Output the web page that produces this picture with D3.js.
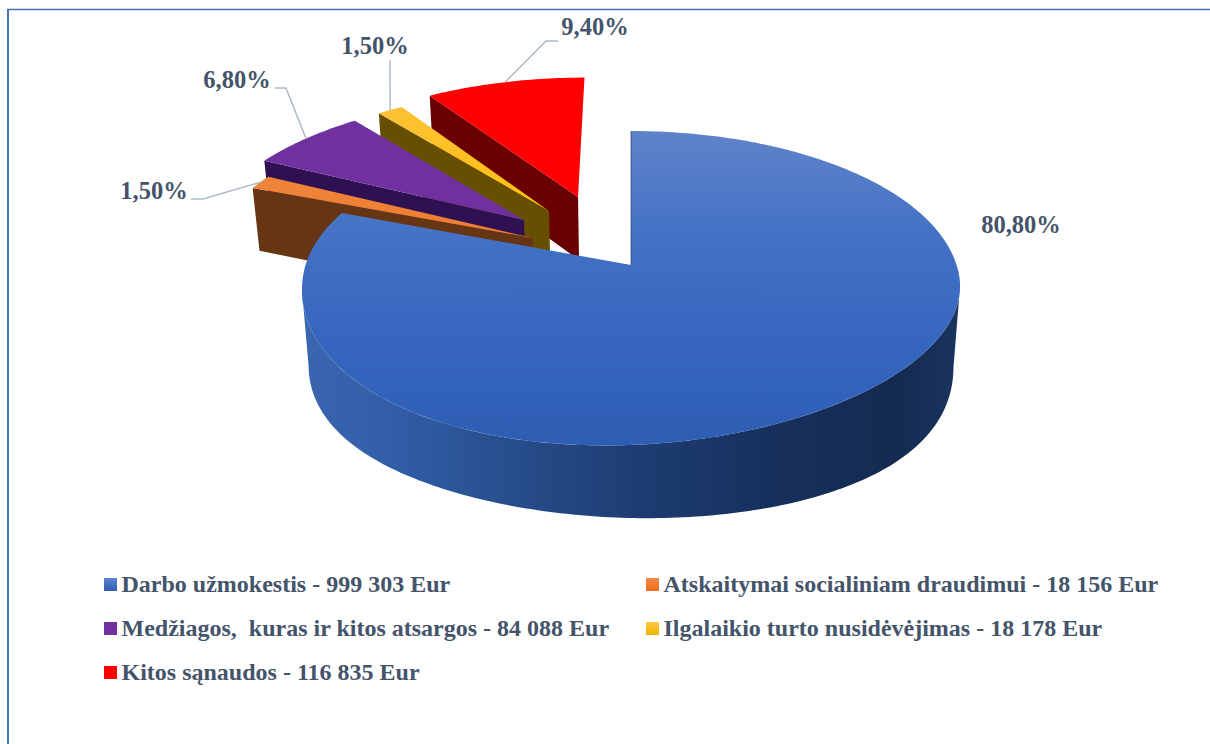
<!DOCTYPE html>
<head>
  <meta charset="utf-8">
  <title>Sanaudos</title>
<style>
html, body{
  width: 100%;
  height: 100%;
  margin: 0;
  padding: 0;
  background: #fff;
}
svg{ display: block; }
text{
  font-family: 'Liberation Serif', 'Times New Roman', serif;
  font-weight: bold;
  fill: #44546a;
  white-space: pre;
}
.pct{ font-size: 24.5px; }
.legend-label{ font-size: 24px; }
.leader{ fill: none; stroke: #adb9ca; stroke-width: 1.5px; }
.frame{ fill: none; stroke: #4472c4; }
.cut{ fill: none; stroke: #2c3f60; stroke-width: 1px; stroke-opacity: 0.7; }
</style>
</head>
<body>
<svg width="1210" height="744"></svg>
<script src="https://d3js.org/d3.v7.min.js"></script>
<script>
// values, clockwise from 12 o'clock
var names   = ["Darbo užmokestis", "Atskaitymai socialiniam draudimui", "Medžiagos,  kuras ir kitos atsargos", "Ilgalaikio turto nusidėvėjimas", "Kitos sąnaudos"];
var amounts = ["999 303", "18 156", "84 088", "18 178", "116 835"];
var shares  = [80.8, 1.5, 6.8, 1.5, 9.4];

// look of each slice
var topLight  = ["#5f83c9", "#f4904c", "#7030a0", "#fcc23e", "#ff0000"];
var topDark   = ["#2d5eb4", "#ec7a2c", "#7030a0", "#ffc000", "#ff0000"];
var sideColor = ["#2f5597", "#663513", "#2f1152", "#665000", "#6b0000"];
var swatchTop = ["#5b86d0", "#f4884a", "#7030a0", "#ffc93f", "#ff0000"];
var swatchBot = ["#2f5cb2", "#ee6c1c", "#7030a0", "#f0b400", "#ff0000"];

// how far each slice is pulled out of the pie, in radius units
var pullX = [0, -0.309, -0.3436, -0.2656, -0.174];
var pullY = [0, -0.18, -0.306, -0.3706, -0.4735];
var rimScale = [1, 1.012, 1.012, 1.012, 1.012];

// leader line elbows and label spots
var leaderKnee = [null, [[203, 199], [191, 199]], [[286, 88], [275, 88]], [[390, 60]], [[546, 41], [558, 41]]];
var labelPos   = [[1021, 233], [154, 199], [237, 88], [375, 54], [595, 35]];
var legendPos  = [[104, 592], [646, 592], [104, 636], [646, 636], [104, 680]];

var svg = d3.select("svg"),
    width = +svg.attr("width"),
    height = +svg.attr("height");

// the pie sits in perspective: k tilts the disc, m shrinks the lower rim.
// bendTop/bendBottom are the slight skew of the front half seen in the picture,
// sag pushes the sides of the lower rim down
var cx = 631, cy = 265, rx = 325.5, ry = 153.6, depth = 67.4, k = 0.1465, m = 0.02;
var bendTop = -14, bendBottom = 8, sag = 13;

function project(px, py, z) {
  var w = 1 - k * py + m * z;
  var front = Math.max(py, 0);
  var skew = px * front * (z ? bendBottom : bendTop);
  var drop = z && py > -0.3 && py < 1 ? sag * Math.sin(Math.PI * (py + 0.3) / 1.3) : 0;
  return [cx + rx * px / w, cy + (ry * py + depth * z + drop) / w + skew];
}

var pie = d3.pie().sort(null).value(function(d) { return d; })(shares);
var line = d3.line();
var percent = d3.formatLocale({decimal: ",", thousands: " ", grouping: [3], currency: ["", ""]}).format(".2f");

function rim(i, a, z) {
  return project(pullX[i] + rimScale[i] * Math.sin(a), pullY[i] - rimScale[i] * Math.cos(a), z);
}
function apex(i, z) {
  return project(pullX[i], pullY[i], z);
}
function arcPoints(i, a0, a1, z) {
  var n = Math.max(2, Math.ceil((a1 - a0) * 60));
  return d3.range(n + 1).map(function(j) { return rim(i, a0 + (a1 - a0) * j / n, z); });
}

// gradients
var defs = svg.append("defs");
shares.forEach(function(d, i) {
  var g = defs.append("linearGradient").attr("id", "top" + i)
    .attr("gradientUnits", "userSpaceOnUse")
    .attr("x1", 0).attr("x2", 0)
    .attr("y1", i == 0 ? 131 : 80).attr("y2", i == 0 ? 445 : 260);
  var stops = i == 0
    ? [[0, topLight[i]], [0.32, "#4572c6"], [0.63, "#3767bf"], [1, topDark[i]]]
    : [[0, topLight[i]], [1, topDark[i]]];
  g.selectAll("stop").data(stops).enter().append("stop")
    .attr("offset", function(s) { return s[0]; })
    .attr("stop-color", function(s) { return s[1]; });

  defs.append("linearGradient").attr("id", "swatch" + i)
    .attr("x1", 0).attr("x2", 0).attr("y1", 0).attr("y2", 1)
    .selectAll("stop").data([swatchTop[i], swatchBot[i]]).enter().append("stop")
      .attr("offset", function(c, j) { return j; })
      .attr("stop-color", function(c) { return c; });
});
var wall = defs.append("linearGradient").attr("id", "wall")
  .attr("gradientUnits", "userSpaceOnUse")
  .attr("x1", 303).attr("x2", 961).attr("y1", 0).attr("y2", 0);
wall.selectAll("stop").data([[0, "#3a66b0"], [0.15, "#315da6"], [0.3, "#284f8e"], [0.5, "#1e3d73"], [0.7, "#17315e"], [0.9, "#142a50"], [1, "#1a3560"]])
  .enter().append("stop")
    .attr("offset", function(d) { return d[0]; })
    .attr("stop-color", function(d) { return d[1]; });

// frame of the chart area
svg.append("path").attr("class", "frame").attr("stroke-width", 2)
  .attr("d", line([[8, height], [8, 9.5]]));
svg.append("path").attr("class", "frame").attr("stroke-width", 1.5)
  .attr("d", line([[7, 9.5], [width, 9.5]]));

// slices, back to front
d3.range(shares.length - 1, -1, -1).forEach(function(i) {
  var s = pie[i], g = svg.append("g").attr("class", "slice");
  var a0 = s.startAngle, a1 = s.endAngle;

  if (i == 0) {
    // outer wall of the big slice, front part only: between the two widest
    // points of the rim, the back part would cancel it out in the fill
    var w0 = Math.acos(-k), w1 = 2 * Math.PI - w0;
    var outer = arcPoints(i, w0, w1, 0).concat(arcPoints(i, w0, w1, 1).reverse());
    g.append("path").attr("d", line(outer) + "Z").attr("fill", "url(#wall)");
  } else {
    // only the radial wall that faces the viewer shows on the pulled slices
    var inner = [apex(i, 0), rim(i, a0, 0), rim(i, a0, 1), apex(i, 1)];
    g.append("path").attr("d", line(inner) + "Z").attr("fill", sideColor[i]);
  }

  var face = [apex(i, 0)].concat(arcPoints(i, a0, a1, 0));
  g.append("path").attr("d", line(face) + "Z").attr("fill", "url(#top" + i + ")");

  if (i == 0) {
    g.append("path").attr("class", "cut").attr("d", line([rim(i, a0, 0), apex(i, 0)]));
  }
});

// leader lines and percent labels
shares.forEach(function(d, i) {
  if (leaderKnee[i]) {
    var mid = (pie[i].startAngle + pie[i].endAngle) / 2;
    svg.append("path").attr("class", "leader")
      .attr("d", line([rim(i, mid, 0)].concat(leaderKnee[i])));
  }
  svg.append("text").attr("class", "pct")
    .attr("x", labelPos[i][0]).attr("y", labelPos[i][1])
    .attr("text-anchor", "middle")
    .text(percent(d) + "%");
});

// legend
shares.forEach(function(d, i) {
  var g = svg.append("g").attr("transform", "translate(" + legendPos[i] + ")");
  g.append("rect").attr("x", 0).attr("y", -14).attr("width", 13).attr("height", 13)
    .attr("fill", "url(#swatch" + i + ")");
  g.append("text").attr("class", "legend-label").attr("x", 17.5)
    .text(names[i] + " - " + amounts[i] + " Eur");
});
</script>
</body>
